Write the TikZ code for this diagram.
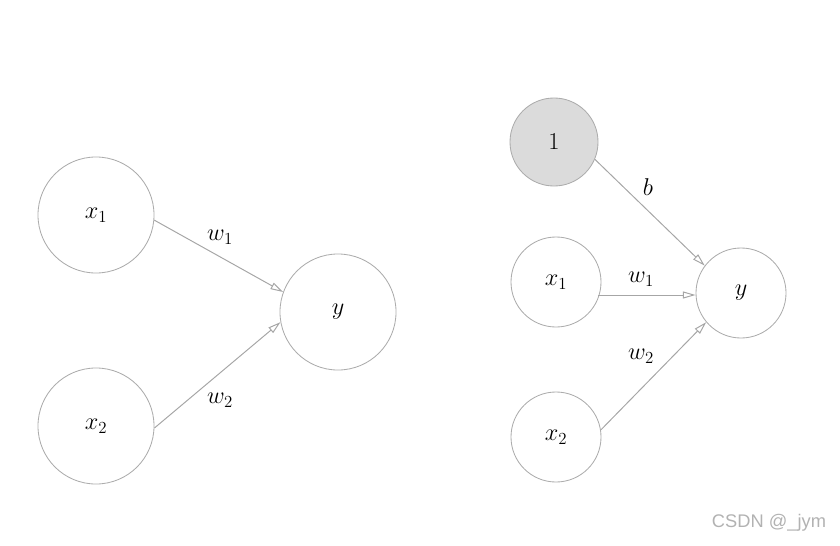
\documentclass[tikz,border=0pt]{standalone}
\usepackage{fontspec}
\newfontfamily\wmfont{Liberation Sans}
\usetikzlibrary{arrows.meta, calc}

\begin{document}
\begin{tikzpicture}[
  x=0.025cm, y=-0.025cm,
  neuron/.style={draw=gray!65, circle, line width=0.6pt, inner sep=0pt,
    font=\LARGE},
  big/.style={neuron, minimum size=2.9cm},
  small/.style={neuron, minimum size=2.25cm},
  bias/.style={small, fill=gray!28, minimum size=2.2cm},
  wlbl/.style={font=\LARGE},
  arr/.style={-{Triangle[open, length=9pt, width=5pt]}, draw=gray!70,
    line width=0.7pt},
]
  \useasboundingbox (0,0) rectangle (840,545);

  % -- left: two inputs --
  \node[big] (x1) at (96,215) {$x_1$};
  \node[big] (x2) at (96,426) {$x_2$};
  \node[big] (y) at (338,312) {$y$};

  \draw[arr] (x1.-5) -- (y.160);
  \draw[arr] (x2.-2) -- (y.190);
  \node[wlbl] at (220,237) {$w_1$};
  \node[wlbl] at (220,400) {$w_2$};

  % -- right: with bias --
  \node[bias] (one) at (554,142) {$1$};
  \node[small] (x1r) at (556,282) {$x_1$};
  \node[small] (x2r) at (556,437) {$x_2$};
  \node[small] (yr) at (741,293) {$y$};

  \coordinate (s) at ($(x1r.center)+(42,13)$);
  \draw[arr] (one.-23) -- (yr.143);
  \draw[arr] (s) -- (s -| yr.west);
  \draw[arr] (x2r.9) -- (yr.220);
  \node[wlbl] at (648,187) {$b$};
  \node[wlbl] at (641,279) {$w_1$};
  \node[wlbl] at (641,356) {$w_2$};

  % -- watermark --
  \node[font=\wmfont\fontsize{13}{15}\selectfont, text=gray!60] (wm)
    at (769,523) {CSDN @\_jym};
\end{tikzpicture}
\end{document}
